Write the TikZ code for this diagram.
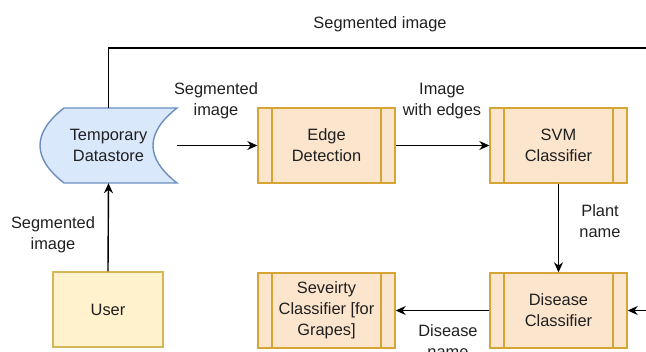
\documentclass[tikz,border=0pt]{standalone}
\usepackage{fontspec}
\setmainfont{Liberation Sans}
\usetikzlibrary{arrows.meta}
\definecolor{procfill}{HTML}{FCE5CD}
\definecolor{procline}{HTML}{D6A536}
\definecolor{userfill}{HTML}{FFF2CC}
\definecolor{userline}{HTML}{D6B656}
\definecolor{storefill}{HTML}{DAE8FC}
\definecolor{storeline}{HTML}{6C8EBF}
\definecolor{ink}{HTML}{1F1F1F}
\tikzset{
  process/.style={rectangle, draw=procline, fill=procfill, line width=1.4pt,
    minimum width=137pt, minimum height=75pt, align=center, text=ink,
    path picture={
      \draw[procline, line width=1.4pt]
        ([xshift=14pt]path picture bounding box.north west) --
        ([xshift=14pt]path picture bounding box.south west)
        ([xshift=-14pt]path picture bounding box.north east) --
        ([xshift=-14pt]path picture bounding box.south east);
    }},
  userbox/.style={rectangle, draw=userline, fill=userfill, line width=1.4pt,
    minimum width=110pt, minimum height=75pt, align=center, text=ink},
  flow/.style={draw=black, line width=1.4pt, -{Stealth[length=10pt,width=9pt]}},
  lbl/.style={align=center, text=ink, inner sep=0pt},
}
\begin{document}
\begin{tikzpicture}[x=1pt, y=-1pt, font=\fontsize{16.4}{21}\selectfont]
\useasboundingbox (0,0) rectangle (646,352);
\clip (0,0) rectangle (646,352);

% temporary data store (stored-data symbol)
\draw[storeline, fill=storefill, line width=1.4pt]
  (64,108) -- (177,108)
  .. controls (145,133) and (145,158) .. (177,183)
  -- (64,183)
  .. controls (32,158) and (32,133) .. (64,108) -- cycle;
\node[minimum width=137pt, minimum height=75pt, align=center, text=ink, inner sep=0pt]
  (ds) at (108.5,145.5) {Temporary\\Datastore};

% process blocks
\node[process] (edge) at (326.5,145.5) {Edge\\Detection};
\node[process] (svm)  at (558.5,145.5) {SVM\\Classifier};
\node[process] (dc)   at (558.5,310.5) {Disease\\Classifier};
\node[process] (sev)  at (326.5,310.5) {Seveirty\\Classifier [for\\Grapes]};
\node[userbox] (user) at (108,309.5) {User};

% connectors
\draw[flow] (user.north) -- (ds.south);
\draw[flow] (ds.east) -- (edge.west);
\draw[flow] (edge.east) -- (svm.west);
\draw[flow] (svm.south) -- (dc.north);
\draw[flow] (dc.west) -- (sev.east);
\coordinate (loopTop) at (700,48);
\coordinate (loopBottom) at (700,310.5);
\draw[flow] (ds.north) |- (loopTop) -- (loopBottom) -- (dc.east);

% connector labels
\node[lbl] (lTop)   at (380,24)  {Segmented image};
\node[lbl] (lUser)  at (53,235)  {Segmented\\image};
\node[lbl] (lDs)    at (216,101) {Segmented\\image};
\node[lbl] (lEdge)  at (442,101) {Image\\with edges};
\node[lbl] (lSvm)   at (600,221) {Plant\\name};
\node[lbl] (lDc)    at (448,341) {Disease\\name};
\end{tikzpicture}
\end{document}
